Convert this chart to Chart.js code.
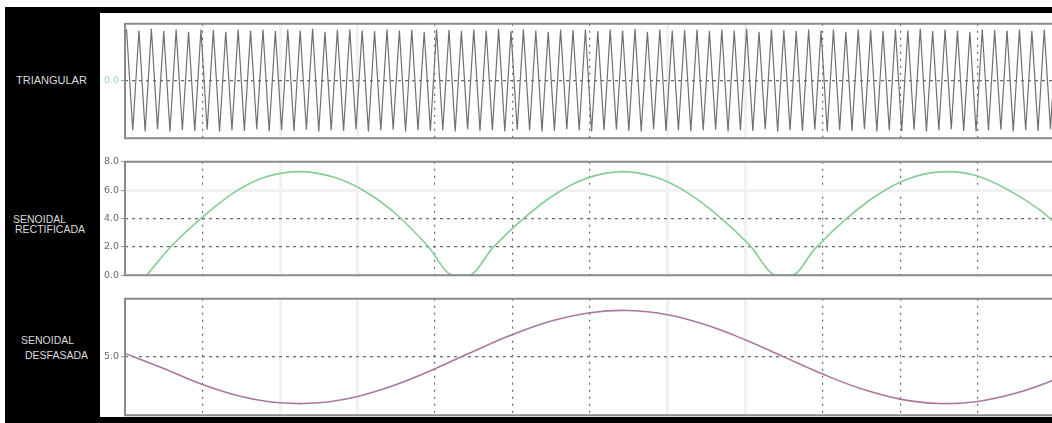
<!DOCTYPE html>
<html>
<head>
<meta charset="utf-8">
<script src="https://cdn.jsdelivr.net/npm/chart.js@4.4.1/dist/chart.umd.min.js"></script>
<style>
  html, body { margin: 0; padding: 0; background: #fff; }
  #wrap { position: relative; width: 1052px; height: 423px; overflow: hidden; background: #fff; }
  .blk { position: absolute; background: #000; }
  .lbl { position: absolute; color: #dcdcdc; font-family: "Liberation Sans", Arial, sans-serif; font-size: 10.5px; line-height: 11px; white-space: nowrap; }
  canvas { position: absolute; left: 100px; }
</style>
</head>
<body>
<div id="wrap">
  <canvas id="c1" width="990" height="130" style="top:16px"></canvas>
  <canvas id="c2" width="990" height="129" style="top:154px"></canvas>
  <canvas id="c3" width="990" height="132" style="top:291px"></canvas>
  <div class="blk" style="left:5px;top:7px;width:1047px;height:6px"></div>
  <div class="blk" style="left:5px;top:7px;width:95px;height:416px"></div>
  <div class="blk" style="left:5px;top:417px;width:1047px;height:6px"></div>
  <div class="lbl" style="left:16px;top:75px;font-size:11px">TRIANGULAR</div>
  <div class="lbl" style="left:13px;top:214px">SENOIDAL</div>
  <div class="lbl" style="left:15px;top:224px">RECTIFICADA</div>
  <div class="lbl" style="left:21px;top:335px">SENOIDAL</div>
  <div class="lbl" style="left:25px;top:350px">DESFASADA</div>
</div>
<script>
// time axis in grid divisions (0 = left edge of the plots)
const xMax = 12.45;

// triangular wave: alternating peaks / troughs, one every half period
const triStart = 0.02;
const triStep = 0.08;
const triValues = [
  0.9,-0.86,0.88,-0.88,0.91,-0.84,0.87,-0.88,0.9,-0.86,0.86,-0.87,
  0.9,-0.85,0.89,-0.88,0.86,-0.86,0.9,-0.87,0.88,-0.84,0.9,-0.88,
  0.87,-0.86,0.9,-0.87,0.88,-0.85,0.91,-0.88,0.86,-0.86,0.89,-0.87,
  0.9,-0.84,0.88,-0.88,0.87,-0.86,0.9,-0.85,0.88,-0.88,0.9,-0.86,
  0.86,-0.87,0.9,-0.86,0.89,-0.88,0.87,-0.84,0.9,-0.87,0.88,-0.86,
  0.91,-0.88,0.87,-0.85,0.9,-0.86,0.88,-0.88,0.86,-0.87,0.9,-0.84,
  0.89,-0.86,0.9,-0.88,0.87,-0.86,0.9,-0.85,0.88,-0.87,0.91,-0.88,
  0.86,-0.84,0.9,-0.87,0.88,-0.86,0.89,-0.88,0.9,-0.86,0.87,-0.85,
  0.9,-0.88,0.88,-0.86,0.91,-0.87,0.86,-0.84,0.9,-0.88,0.89,-0.86,
  0.87,-0.87,0.9,-0.85,0.88,-0.88,0.9,-0.86,0.86,-0.87,0.9,-0.84,
  0.89,-0.88,0.87,-0.86,0.9,-0.87,0.88,-0.85,0.91,-0.88,0.87,-0.86,
  0.9,-0.84,0.88,-0.87,0.86,-0.88,0.9,-0.86,0.89,-0.85,0.88,-0.88,
  0.9,-0.86,0.87,-0.87,0.9,-0.84,0.88,-0.88,0.86,-0.86,0.9,-0.87
];

// rectified sine (green)
const rectX = [0.28,0.6,1.0,1.4,1.8,2.25,2.7,3.1,3.5,3.9,4.24,4.43,4.75,5.15,5.55,5.95,6.42,6.85,7.25,7.65,8.05,8.41,8.6,8.9,9.3,9.7,10.1,10.59,11.0,11.4,11.8,12.2];
const rectY = [0,2.06,4.1,5.8,6.9,7.3,6.9,5.9,4.3,2.1,0,0,1.97,4.04,5.71,6.82,7.3,6.9,5.84,4.21,2.18,0,0,1.86,3.95,5.64,6.79,7.3,7.0,6.0,4.6,2.7];

// shifted sine (purple)
const shiftX = [0,0.5,1.0,1.5,2.0,2.5,3.0,3.5,4.0,4.5,5.0,5.5,6.0,6.5,7.0,7.5,8.0,8.5,9.0,9.5,10.0,10.5,11.0,11.5,12.0,12.5];
const shiftY = [5.3,4.01,2.65,1.62,1.07,1.07,1.62,2.64,4.0,5.5,6.92,8.08,8.8,8.99,8.62,7.74,6.48,5.01,3.54,2.27,1.39,1.01,1.19,1.91,3.06,4.41];

// y ticks of each panel
const triTicks = [0];
const rectTicks = [0, 2, 4, 6, 8];
const shiftTicks = [5];

// grid pattern: dark dotted / faint solid divisions
const darkCols = [1, 4, 5, 6, 9, 10, 11];
const lightCols = [2, 3, 7, 8];

const framePlugin = {
  id: 'frame',
  afterDatasetsDraw(chart) {
    const { ctx, chartArea: a } = chart;
    ctx.save();
    ctx.strokeStyle = '#8a8a8a';
    ctx.lineWidth = 2;
    ctx.beginPath();
    ctx.moveTo(a.right + 5, a.top);
    ctx.lineTo(a.left, a.top);
    ctx.lineTo(a.left, a.bottom);
    ctx.lineTo(a.right + 5, a.bottom);
    ctx.stroke();
    ctx.restore();
  }
};

function tickVal(c) { return c.tick ? c.tick.value : null; }

function xScale() {
  return {
    type: 'linear', min: 0, max: xMax,
    ticks: { display: false, stepSize: 1, includeBounds: false },
    grid: {
      drawTicks: false,
      color: c => darkCols.includes(tickVal(c)) ? '#6a6a6a' : (lightCols.includes(tickVal(c)) ? '#f1f1f1' : 'rgba(0,0,0,0)'),
      lineWidth: c => lightCols.includes(tickVal(c)) ? 3 : 1.2
    },
    border: { display: false, dash: c => darkCols.includes(tickVal(c)) ? [2, 5] : [] }
  };
}

function yScale(min, max, shown, dark, light, labelColor) {
  return {
    type: 'linear', min: min, max: max,
    afterBuildTicks: s => { s.ticks = shown.map(v => ({ value: v })); },
    afterFit: s => { s.width = 25; },
    ticks: {
      color: labelColor, padding: 2,
      font: { family: 'DejaVu Sans', size: 9.5 },
      callback: v => Number(v).toFixed(1)
    },
    grid: {
      tickLength: 4, tickColor: '#9a9a9a', tickWidth: 1,
      color: c => dark.includes(tickVal(c)) ? '#6a6a6a' : (light.includes(tickVal(c)) ? '#f1f1f1' : 'rgba(0,0,0,0)'),
      lineWidth: c => light.includes(tickVal(c)) ? 3 : 1.2
    },
    border: { display: false, dash: c => dark.includes(tickVal(c)) ? [3, 4] : [] }
  };
}

function makePanel(id, dataset, yOpts) {
  return new Chart(document.getElementById(id), {
    type: 'line',
    data: { datasets: [dataset] },
    options: {
      responsive: false,
      animation: false,
      devicePixelRatio: 1,
      layout: { padding: { top: 6, bottom: 6, left: 0, right: 0 } },
      plugins: { legend: { display: false }, tooltip: { enabled: false } },
      scales: { x: xScale(), y: yOpts }
    },
    plugins: [framePlugin]
  });
}

makePanel('c1', {
  data: triValues.map((v, i) => ({ x: triStart + i * triStep, y: v })),
  borderColor: '#707070', borderWidth: 1.2, pointRadius: 0, tension: 0
}, yScale(-1, 1, triTicks, [0], [], '#9ccfd2'));

makePanel('c2', {
  data: rectX.map((x, i) => ({ x: x, y: rectY[i] })),
  borderColor: '#86cc94', borderWidth: 1.6, pointRadius: 0, cubicInterpolationMode: 'monotone'
}, yScale(0, 8, rectTicks, [2, 4], [6], '#666'));

makePanel('c3', {
  data: shiftX.map((x, i) => ({ x: x, y: shiftY[i] })),
  borderColor: '#a9779f', borderWidth: 1.6, pointRadius: 0, tension: 0.4
}, yScale(0, 10, shiftTicks, [5], [], '#666'));
</script>
</body>
</html>
